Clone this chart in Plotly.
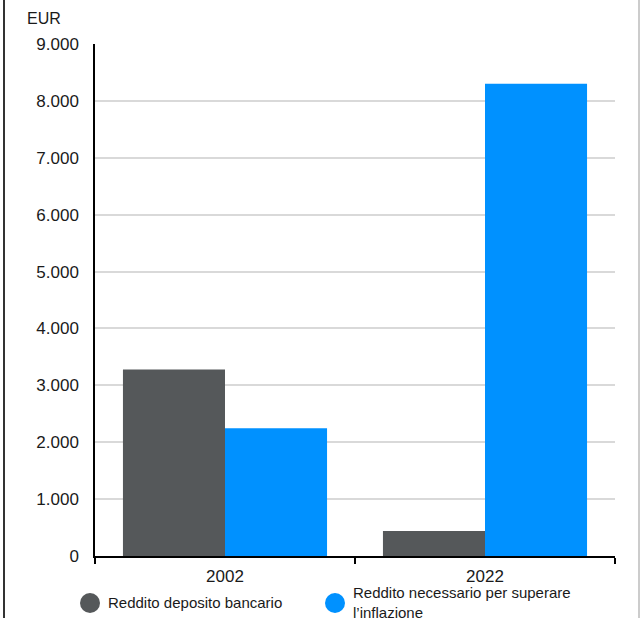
import plotly.graph_objects as go

categories = ["2002", "2022"]
deposit_income = [3280, 440]
inflation_needed = [2245, 8300]
series_names = ["Reddito deposito bancario", "Reddito necessario per superare<br>l’inflazione"]
y_ticks = [0, 1000, 2000, 3000, 4000, 5000, 6000, 7000, 8000, 9000]

GRAY = "#55585a"
BLUE = "#0091ff"
FONT = "Liberation Sans, Arial, sans-serif"
TXT = "#1a1a1a"

# plot area in pixels: x 95..615, y 44..556
PW, PH = 520, 512


def px(x):
    return (x - 95) / PW


def py(y):
    return (556 - y) / PH


fig = go.Figure()
fig.add_trace(go.Bar(x=categories, y=deposit_income, marker_color=GRAY,
                     marker_line_width=0, name=series_names[0]))
fig.add_trace(go.Bar(x=categories, y=inflation_needed, marker_color=BLUE,
                     marker_line_width=0, name=series_names[1]))

legend_colors = [GRAY, BLUE]
legend_x = [90, 335]
shapes = [
    dict(type="line", xref="paper", yref="paper", x0=px(4), x1=px(4),
         y0=py(618), y1=py(0), line=dict(color="#333333", width=2)),
    dict(type="line", xref="paper", yref="paper", x0=px(639), x1=px(639),
         y0=py(618), y1=py(0), line=dict(color="#cccccc", width=2)),
]
annotations = [dict(text="EUR", xref="paper", yref="paper", x=px(44), y=py(18),
                    xanchor="center", yanchor="middle", showarrow=False,
                    font=dict(family=FONT, size=16, color=TXT))]
for name, col, lx in zip(series_names, legend_colors, legend_x):
    shapes.append(dict(type="circle", xref="paper", yref="paper",
                       xsizemode="pixel", ysizemode="pixel",
                       xanchor=px(lx), yanchor=py(603),
                       x0=-10, x1=10, y0=-10, y1=10,
                       fillcolor=col, line=dict(width=0)))
    annotations.append(dict(text=name, xref="paper", yref="paper",
                            x=px(lx + 16), y=py(602), xanchor="left", yanchor="middle",
                            align="left", showarrow=False,
                            font=dict(family=FONT, size=15, color=TXT)))

fig.update_layout(
    width=640, height=618,
    margin=dict(l=95, r=25, t=44, b=62, autoexpand=False),
    paper_bgcolor="white", plot_bgcolor="white",
    separators=",.",
    barmode="group", bargap=0.215, bargroupgap=0,
    font=dict(family=FONT, size=16, color=TXT),
    showlegend=False,
    xaxis=dict(type="category", showline=True, linecolor="#000000", linewidth=1.5,
               ticks="outside", ticklen=6, tickwidth=1.5, tickcolor="#000000",
               tickson="boundaries", showgrid=False, fixedrange=True,
               ticklabelstandoff=4,
               tickfont=dict(family=FONT, size=17, color=TXT)),
    yaxis=dict(range=[0, 9000], tickvals=y_ticks, tickformat=",d",
               showline=True, linecolor="#000000", linewidth=1.5,
               ticks="", showgrid=True, gridcolor="#d9d9d9", gridwidth=1.5,
               zeroline=False, ticklabelstandoff=11, fixedrange=True,
               tickfont=dict(family=FONT, size=17, color=TXT)),
    annotations=annotations,
    shapes=shapes,
)

fig.write_html("out.html")
